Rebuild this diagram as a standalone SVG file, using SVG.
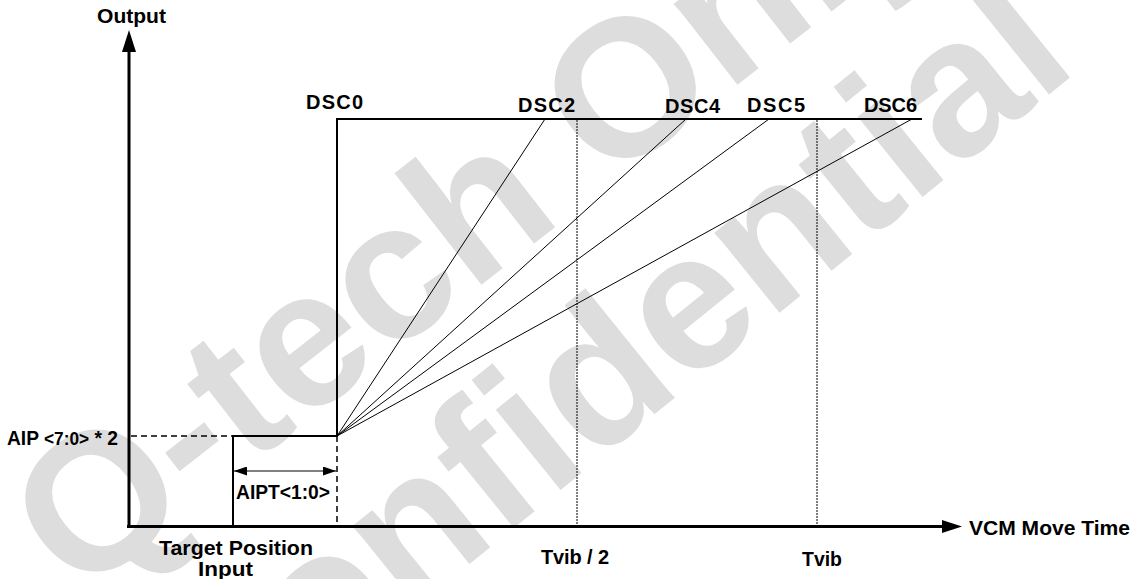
<svg xmlns="http://www.w3.org/2000/svg" width="1141" height="579" viewBox="0 0 1141 579">
<style>
.t{font-family:"Liberation Sans",Arial,sans-serif;font-weight:bold;font-size:20px;fill:#000}
.wm{font-family:"Liberation Sans",Arial,sans-serif;font-weight:bold;font-size:195px;fill:#dddddd}
.ax{stroke:#000;stroke-width:3;fill:none}
.st{stroke:#000;stroke-width:2;fill:none}
.dg{stroke:#000;stroke-width:1;fill:none}
.dash{stroke:#000;stroke-width:1.5;stroke-dasharray:6 4;fill:none}
.dot{stroke:#000;stroke-width:1;stroke-dasharray:2 1;fill:none}
</style>
<defs>
<marker id="ah" viewBox="0 0 13 9" refX="13" refY="4.5" markerWidth="13" markerHeight="9" markerUnits="userSpaceOnUse" orient="auto-start-reverse">
<path d="M0,0 L13,4.5 L0,9 Z" fill="#000"/>
</marker>
</defs>
<rect width="1141" height="579" fill="#fff"/>
<g id="watermark">
<text class="wm" font-size="198" transform="translate(78,600) rotate(-38)">Q-tech Only</text>
<text class="wm" transform="translate(205,778) rotate(-39)">Confidential</text>
</g>
<g id="connectors">
<line class="ax" x1="129" y1="528" x2="129" y2="50"/>
<polygon points="129,30 122,52 136,52" fill="#000"/>
<line class="ax" x1="127" y1="526.5" x2="944" y2="526.5"/>
<polygon points="962,526.5 942,520 942,533" fill="#000"/>
<polyline class="st" points="233,527 233,436 337,436 337,119 922,119"/>
<line class="dash" x1="131" y1="436" x2="233" y2="436"/>
<line class="dash" x1="337" y1="436" x2="337" y2="526"/>
<line class="dot" x1="577" y1="120" x2="577" y2="525"/>
<line class="dot" x1="817" y1="120" x2="817" y2="525"/>
<line class="dg" x1="337" y1="436" x2="545" y2="119"/>
<line class="dg" x1="337" y1="436" x2="686" y2="119"/>
<line class="dg" x1="337" y1="436" x2="769" y2="119"/>
<line class="dg" x1="337" y1="436" x2="912" y2="119"/>
<line class="dg" x1="234" y1="471" x2="336" y2="471" marker-start="url(#ah)" marker-end="url(#ah)"/>
</g>
<g id="labels">
<text class="t" x="97" y="23" textLength="69" lengthAdjust="spacingAndGlyphs">Output</text>
<text class="t" x="306" y="109" textLength="57" lengthAdjust="spacing">DSC0</text>
<text class="t" x="518" y="112" textLength="57" lengthAdjust="spacing">DSC2</text>
<text class="t" x="665" y="113" textLength="55" lengthAdjust="spacing">DSC4</text>
<text class="t" x="747" y="112" textLength="58" lengthAdjust="spacing">DSC5</text>
<text class="t" x="864" y="112" textLength="53" lengthAdjust="spacing">DSC6</text>
<text class="t" x="7" y="445" textLength="111" lengthAdjust="spacingAndGlyphs">AIP <tspan font-size="18">&lt;7:0&gt;</tspan> * 2</text>
<text class="t" x="236" y="499" textLength="94" lengthAdjust="spacingAndGlyphs">AIPT&lt;1:0&gt;</text>
<text class="t" x="159" y="555" font-size="21" textLength="154" lengthAdjust="spacingAndGlyphs">Target Position</text>
<text class="t" x="198" y="576" font-size="21" textLength="55" lengthAdjust="spacingAndGlyphs">Input</text>
<text class="t" x="541" y="564" textLength="68" lengthAdjust="spacing">Tvib / 2</text>
<text class="t" x="802" y="566" textLength="40" lengthAdjust="spacingAndGlyphs">Tvib</text>
<text class="t" x="969" y="535" textLength="161" lengthAdjust="spacingAndGlyphs">VCM Move Time</text>
</g>
</svg>
